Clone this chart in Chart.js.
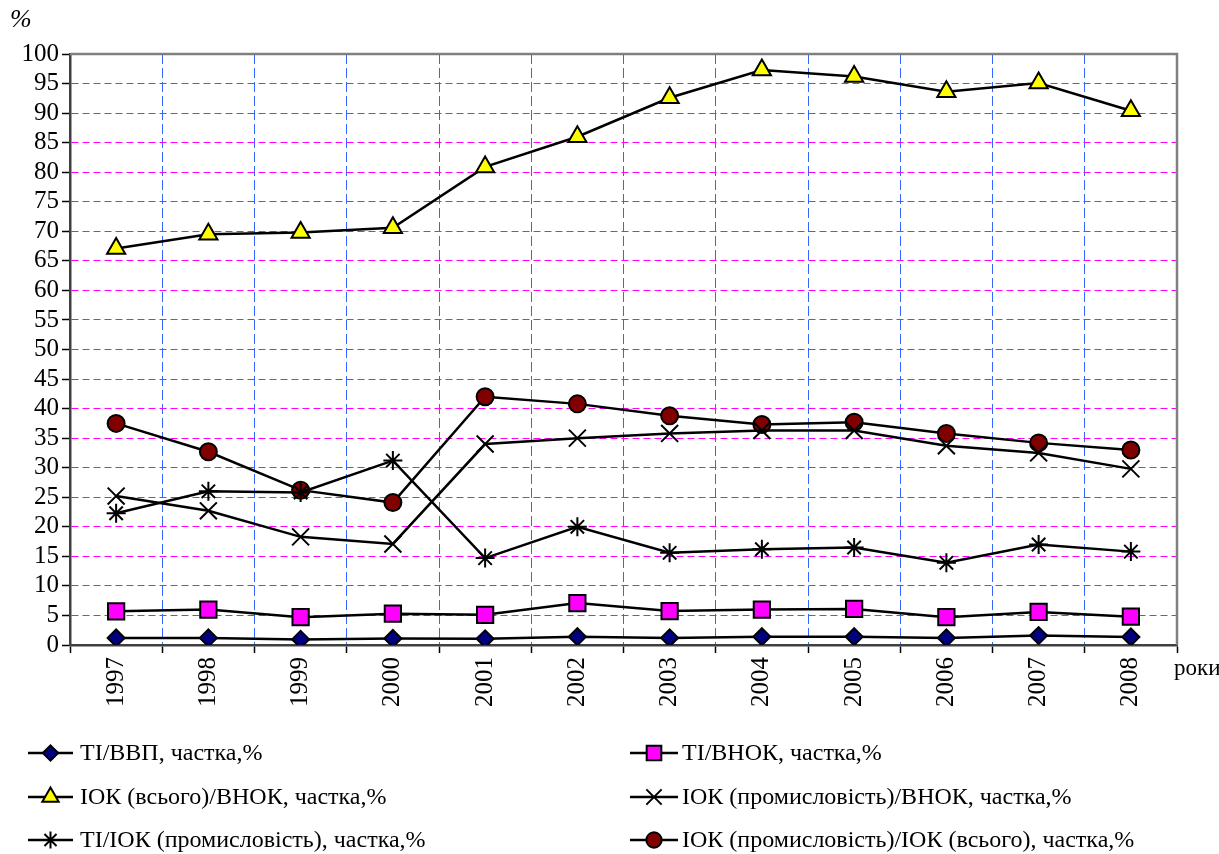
<!DOCTYPE html>
<html>
<head>
<meta charset="utf-8">
<script src="https://cdn.jsdelivr.net/npm/chart.js@4/dist/chart.umd.min.js"></script>
<style>
html,body{margin:0;padding:0;background:#fff;}
canvas{display:block;}
</style>
</head>
<body>
<canvas id="c" width="1219" height="854"></canvas>
<script>
const years = ['1997','1998','1999','2000','2001','2002','2003','2004','2005','2006','2007','2008'];
const yTicks = [0,5,10,15,20,25,30,35,40,45,50,55,60,65,70,75,80,85,90,95,100];
const tiVvp = [1.2, 1.2, 0.95, 1.1, 1.05, 1.4, 1.2, 1.4, 1.4, 1.2, 1.6, 1.35];
const tiVnok = [5.7, 6.0, 4.7, 5.3, 5.1, 7.1, 5.75, 6.0, 6.1, 4.7, 5.6, 4.8];
const iokTotalVnok = [67.1, 69.5, 69.8, 70.6, 80.9, 86.0, 92.6, 97.3, 96.2, 93.6, 95.1, 90.4];
const iokIndVnok = [25.2, 22.7, 18.3, 17.1, 34.0, 35.0, 35.8, 36.3, 36.3, 33.7, 32.5, 29.8];
const tiIokInd = [22.3, 26.0, 25.8, 31.2, 14.7, 20.0, 15.6, 16.2, 16.5, 13.9, 17.0, 15.8];
const iokIndIokTotal = [37.5, 32.7, 26.2, 24.1, 42.0, 40.8, 38.8, 37.3, 37.7, 35.8, 34.2, 33.0];
const seriesNames = [
  'ТІ/ВВП, частка,%',
  'ТІ/ВНОК, частка,%',
  'ІОК (всього)/ВНОК, частка,%',
  'ІОК (промисловість)/ВНОК, частка,%',
  'ТІ/ІОК (промисловість), частка,%',
  'ІОК (промисловість)/ІОК (всього), частка,%'
];

const FONT = "'Liberation Serif', 'Times New Roman', serif";

function ds(label, data, style, fill, radius) {
  return {
    label, data,
    borderColor: '#000', borderWidth: 2.5,
    pointStyle: style, pointRadius: radius, pointHoverRadius: radius,
    pointBackgroundColor: fill, pointBorderColor: '#000', pointBorderWidth: 2,
    fill: false, tension: 0
  };
}

const datasets = [
  ds(seriesNames[0], tiVvp, 'rectRot', '#000080', 8.5),
  ds(seriesNames[1], tiVnok, 'rect', '#FF00FF', 11.5),
  ds(seriesNames[2], iokTotalVnok, 'triangle', '#FFFF00', 10.5),
  ds(seriesNames[3], iokIndVnok, 'crossRot', '#000', 12),
  ds(seriesNames[4], tiIokInd, 'star', '#000', 9.5),
  ds(seriesNames[5], iokIndIokTotal, 'circle', '#800000', 8.5)
];

const legendPos = [
  {x1: 28, x2: 73, y: 753, tx: 80},
  {x1: 630, x2: 678, y: 753, tx: 682},
  {x1: 28, x2: 73, y: 797, tx: 80},
  {x1: 630, x2: 678, y: 797, tx: 682},
  {x1: 28, x2: 73, y: 840, tx: 80},
  {x1: 630, x2: 678, y: 840, tx: 682}
];

const extras = {
  id: 'extras',
  afterDraw(chart) {
    const ctx = chart.ctx;
    const a = chart.chartArea;
    ctx.save();
    ctx.strokeStyle = '#808080';
    ctx.lineWidth = 2.5;
    ctx.beginPath();
    ctx.moveTo(a.left, a.top);
    ctx.lineTo(a.right, a.top);
    ctx.lineTo(a.right, a.bottom);
    ctx.stroke();
    ctx.fillStyle = '#000';
    ctx.font = 'italic 26px ' + FONT;
    ctx.textBaseline = 'middle';
    ctx.textAlign = 'left';
    ctx.fillText('%', 10, 20);
    ctx.font = '23px ' + FONT;
    ctx.fillText('роки', 1174, 669);
    chart.data.datasets.forEach((d, i) => {
      const p = legendPos[i];
      ctx.strokeStyle = '#000';
      ctx.lineWidth = 2.5;
      ctx.beginPath();
      ctx.moveTo(p.x1, p.y);
      ctx.lineTo(p.x2, p.y);
      ctx.stroke();
      ctx.fillStyle = d.pointBackgroundColor;
      ctx.strokeStyle = '#000';
      ctx.lineWidth = 2;
      if (Chart.helpers && Chart.helpers.drawPoint) {
        Chart.helpers.drawPoint(ctx, {pointStyle: d.pointStyle, radius: d.pointRadius * 0.9, rotation: 0, borderWidth: 2}, (p.x1 + p.x2) / 2, p.y);
      }
      ctx.fillStyle = '#000';
      ctx.font = '24px ' + FONT;
      ctx.textAlign = 'left';
      ctx.textBaseline = 'middle';
      ctx.fillText(d.label, p.tx, p.y + 1);
    });
    ctx.restore();
  }
};

new Chart(document.getElementById('c'), {
  type: 'line',
  data: { labels: years, datasets },
  options: {
    responsive: false,
    animation: false,
    layout: { padding: { top: 54, right: 42, left: 0, bottom: 0 } },
    plugins: { legend: { display: false }, tooltip: { enabled: false }, title: { display: false } },
    scales: {
      x: {
        type: 'category',
        offset: true,
        grid: { offset: true, color: '#3366FF', lineWidth: 1, tickLength: 8, tickColor: '#000', tickWidth: 1.5 },
        border: { display: true, color: '#404040', width: 2.5, dash: [10, 4] },
        ticks: { color: '#000', font: { family: FONT, size: 25 }, minRotation: 90, maxRotation: 90, padding: 4, autoSkip: false },
        afterFit(scale) { scale.height = 209; }
      },
      y: {
        min: 0, max: 100,
        afterBuildTicks(scale) { scale.ticks = yTicks.map(v => ({ value: v })); },
        grid: { color: '#FF00FF', lineWidth: 1, tickLength: 8, tickColor: '#000', tickWidth: 1.5 },
        border: { display: true, color: '#404040', width: 2.5, dash: [7, 4] },
        ticks: { color: '#000', font: { family: FONT, size: 25 }, padding: 3, autoSkip: false },
        afterFit(scale) { scale.width = 70; }
      }
    }
  },
  plugins: [extras]
});
</script>
</body>
</html>
